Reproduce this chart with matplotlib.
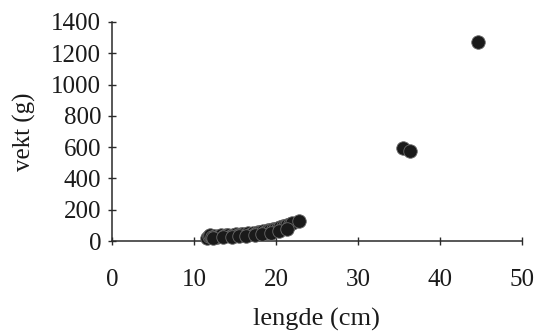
import matplotlib
matplotlib.use("Agg")
import matplotlib.pyplot as plt

lengde = [11.6, 11.8, 12.0, 12.2, 12.5, 12.8, 13.0, 13.3, 13.6, 13.9, 14.2, 14.5, 14.8,
          15.1, 15.4, 15.7, 16.0, 16.3, 16.6, 16.9, 17.2, 17.5, 17.8, 18.1, 18.4,
          18.7, 19.0, 19.3, 19.6, 19.9, 20.2, 20.5, 20.8, 21.1, 21.4, 21.7, 22.0, 22.8,
          12.3, 13.5, 14.6, 15.5, 16.4, 17.4, 18.3, 19.4, 20.4, 21.3,
          35.5, 36.4, 44.6]
vekt = [22, 30, 40, 25, 35, 28, 30, 42, 32, 36, 40, 34, 42,
        45, 38, 44, 48, 42, 50, 46, 52, 48, 55, 58, 62,
        60, 68, 72, 75, 80, 85, 90, 98, 95, 105, 110, 118, 126,
        20, 24, 28, 30, 32, 38, 45, 52, 62, 80,
        595, 575, 1275]

xticks = [0, 10, 20, 30, 40, 50]
yticks = [0, 200, 400, 600, 800, 1000, 1200, 1400]

plt.rcParams['font.family'] = ['Liberation Serif', 'DejaVu Serif']

fig = plt.figure(figsize=(5.39, 3.33), dpi=100)
ax = fig.add_axes([0.208, 0.276, 0.76, 0.658])
ax.scatter(lengde, vekt, s=95, c='#1a1a1a', edgecolors='#6a6a6a', linewidths=0.6, zorder=3, clip_on=False)
ax.set_xlim(0, 50)
ax.set_ylim(0, 1400)
ax.set_xticks(xticks)
ax.set_yticks(yticks)
ax.spines['top'].set_visible(False)
ax.spines['right'].set_visible(False)
for s in ['left', 'bottom']:
    ax.spines[s].set_color('#2a2a2a')
    ax.spines[s].set_linewidth(1.1)
ax.tick_params(axis='both', direction='inout', length=6, width=1, color='#2a2a2a',
               labelsize=18, labelcolor='#1a1a1a')
ax.tick_params(axis='x', pad=17)
ax.tick_params(axis='y', pad=5)
ax.set_xlabel('lengde (cm)', fontsize=19, labelpad=12, color='#1a1a1a')
ax.set_ylabel('vekt (g)', fontsize=18, labelpad=11, color='#1a1a1a')
fig.savefig('out.png', dpi=100)
